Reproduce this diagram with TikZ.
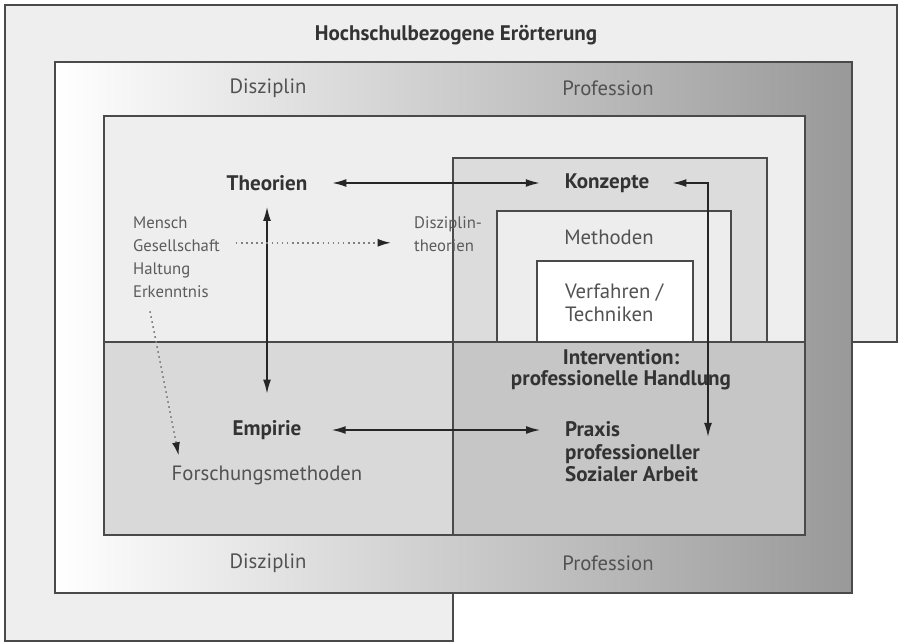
\documentclass[tikz,border=0pt]{standalone}
\usepackage{fontspec}
\setmainfont{PT Sans}
\usetikzlibrary{arrows,arrows.meta,positioning,calc}
\definecolor{rahmen}{HTML}{4A4A4A}
\definecolor{schrift}{HTML}{333333}
\definecolor{grundgrau}{HTML}{EEEEEF}
\definecolor{untenlinks}{HTML}{D9D9D9}
\definecolor{untenrechts}{HTML}{C6C6C6}
\definecolor{konzeptgrau}{HTML}{DCDCDC}
\definecolor{methodengrau}{HTML}{EDEDED}
\tikzset{
	etikett/.style={font=\fontsize{11.8}{13}\selectfont, text=schrift!85, inner sep=1pt},
	fett/.style={etikett, font=\fontsize{12}{13}\selectfont\bfseries, text=schrift},
	klein/.style={font=\fontsize{9.5}{13}\selectfont, text=schrift!80, inner sep=1pt, align=left},
	doppelpfeil/.style={{Latex[length=8pt,width=4.5pt]}-{Latex[length=8pt,width=4.5pt]}, line width=0.9pt, draw=black!85},
	punktpfeil/.style={-{Latex[length=7.5pt,width=4.5pt,color=black!85]}, dotted, line width=0.9pt, draw=black!50},
	kasten/.style={draw=rahmen, line width=0.7pt},
}

\begin{document}
\begin{tikzpicture}[x=0.02cm, y=-0.02cm]
		\useasboundingbox (0,0) rectangle (898,642);
		% Hintergrundflaechen
		\draw[kasten, fill=grundgrau] (5,5) -- (897,5) -- (897,342) -- (453,342) -- (453,641) -- (5,641) -- cycle;
		\shade[left color=white, middle color=black!15, right color=black!40] (55,62) rectangle (852,593);
		\draw[kasten] (55,62) rectangle (852,593);
		\fill[grundgrau] (104,116) rectangle (805,342);
		\fill[untenlinks] (104,342) rectangle (453,535);
		\fill[untenrechts] (453,342) rectangle (805,535);
		\draw[kasten, fill=konzeptgrau] (453,342) |- (767,158) -- (767,342);
		\draw[kasten, fill=methodengrau] (497,342) |- (731,211) -- (731,342);
		\draw[kasten, fill=white] (537,342) |- (693,261) -- (693,342);
		\draw[kasten] (104,116) rectangle (805,535);
		\draw[kasten] (104,342) -- (805,342);
		\draw[kasten] (453,342) -- (453,535);
		
		% Beschriftungen
		\node[fett] (titel) at (456,35) {Hochschulbezogene Erörterung};
		\node[etikett] (disoben) at (268,88) {Disziplin};
		\node[etikett] (profoben) at (608,88) {Profession};
		\node[etikett] (disunten) at (268,563) {Disziplin};
		\node[etikett] (profunten) at (608,563) {Profession};
		\node[fett] (theo) at (267,183) {Theorien};
		\node[fett] (konz) at (607,183) {Konzepte};
		\node[etikett] (meth) at (609,237) {Methoden};
		\node[etikett, anchor=west, align=left] (verf) at (563,303) {Verfahren /\\Techniken};
		\node[fett, align=center, font=\fontsize{12}{12}\selectfont\bfseries] (interv) at (621,370) {Intervention:\\professionelle Handlung};
		\node[fett] (empi) at (267,430) {Empirie};
		\node[etikett] (forsch) at (267,475) {Forschungsmethoden};
		\node[fett, anchor=west, align=left, font=\fontsize{12}{12.8}\selectfont\bfseries] (praxis) at (563,452) {Praxis\\professioneller\\Sozialer Arbeit};
		\node[klein, anchor=west] (mensch) at (131,257) {Mensch\\Gesellschaft\\Haltung\\Erkenntnis};
		\node[klein, anchor=west] (diszth) at (412,234) {Disziplin-\\theorien};
		\coordinate (praxisein) at (708,437);
		
		% Pfeile
		\draw[doppelpfeil, shorten <=13pt, shorten >=13pt] (theo) -- (konz);
		\draw[doppelpfeil, shorten <=8pt, shorten >=14pt] (theo) -- (empi);
		\draw[doppelpfeil, shorten <=16pt, shorten >=13pt] (empi) -- (empi -| praxis.west);
		\draw[doppelpfeil, shorten <=12pt] (konz.east) -| (praxisein);
		\draw[punktpfeil, shorten <=8pt, shorten >=12pt] ([yshift=-5pt]mensch.east |- diszth.west) -- ([yshift=-5pt]diszth.west);
		\draw[punktpfeil] ($(mensch.south west)+(19,12)$) -- ($(forsch.north west)+(9,-8)$);
	\end{tikzpicture}
\end{document}
